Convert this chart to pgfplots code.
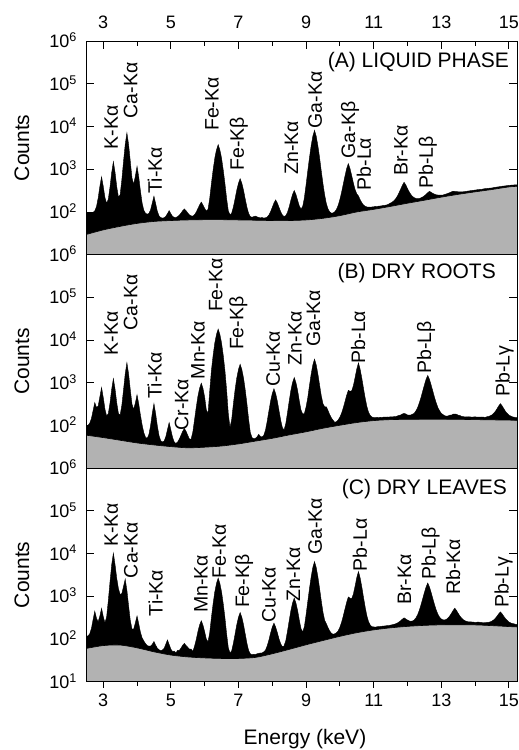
\documentclass[border=0pt]{standalone}
\usepackage{fontspec}
\setmainfont{Liberation Sans}
\usepackage{pgfplots}
\pgfplotsset{compat=1.18}
\usepackage{pgfplotstable}
\definecolor{bggray}{RGB}{178,178,178}
\newcommand{\tickfont}{\fontsize{18}{18}\selectfont}
\newcommand{\labfont}{\fontsize{21}{21}\selectfont}
\newcommand{\pkfont}{\fontsize{19.5}{19.5}\selectfont}
\pgfkeys{/pgf/number format/assume math mode=true}

\pgfplotstableread{
E v
2.45 92
2.55 96
2.60 94
2.65 97
2.70 98
2.75 106
2.80 133
2.85 211
2.90 396
2.95 665
3.00 398
3.05 218
3.10 159
3.15 199
3.20 383
3.25 837
3.30 1500
3.35 837
3.40 388
3.45 221
3.50 252
3.55 564
3.60 1518
3.65 3791
3.70 7096
3.75 3796
3.80 1536
3.85 627
3.90 442
3.95 692
4.00 1170
4.05 658
4.10 312
4.15 162
4.20 110
4.25 93
4.30 89
4.35 92
4.40 112
4.45 161
4.50 234
4.55 157
4.60 104
4.65 81
4.70 74
4.75 72
4.80 73
4.85 79
4.90 91
4.95 108
5.00 91
5.05 79
5.10 75
5.15 74
5.20 78
5.25 84
5.30 94
5.35 107
5.40 118
5.45 107
5.50 95
5.55 85
5.60 81
5.65 80
5.70 86
5.75 99
5.80 120
5.85 146
5.90 170
5.95 146
6.00 121
6.05 105
6.10 115
6.15 208
6.20 463
6.25 960
6.30 1807
6.35 2839
6.40 3760
6.45 2839
6.50 1807
6.55 960
6.60 463
6.65 205
6.70 106
6.75 86
6.80 94
6.85 131
6.90 202
6.95 323
7.00 470
7.05 601
7.10 469
7.15 322
7.20 201
7.25 130
7.30 93
7.35 78
7.40 75
7.45 78
7.50 80
7.55 77
7.60 74
7.65 73
7.70 74
7.75 72
7.80 73
7.85 76
7.90 85
7.95 101
8.00 128
8.05 162
8.10 192
8.15 162
8.20 128
8.25 101
8.30 85
8.35 78
8.40 82
8.45 98
8.50 131
8.55 188
8.60 257
8.65 318
8.70 257
8.75 188
8.80 138
8.85 117
8.90 134
8.95 214
9.00 430
9.05 901
9.10 1848
9.15 3517
9.20 5924
9.25 8097
9.30 5925
9.35 3520
9.40 1852
9.45 906
9.50 457
9.55 251
9.60 157
9.65 117
9.70 100
9.75 94
9.80 95
9.85 101
9.90 115
9.95 143
10.00 195
10.05 287
10.10 444
10.15 689
10.20 1027
10.25 1354
10.30 1037
10.35 708
10.40 475
10.45 335
10.50 266
10.55 236
10.60 194
10.65 164
10.70 145
10.75 136
10.80 131
10.85 130
10.90 129
10.95 131
11.00 132
11.05 135
11.10 134
11.15 137
11.20 138
11.25 140
11.30 143
11.35 144
11.40 147
11.45 154
11.50 162
11.55 170
11.60 184
11.65 203
11.70 235
11.75 281
11.80 344
11.85 423
11.90 495
11.95 429
12.00 353
12.05 296
12.10 256
12.15 230
12.20 216
12.25 208
12.30 205
12.35 205
12.40 215
12.45 224
12.50 239
12.55 258
12.60 282
12.65 303
12.70 289
12.75 272
12.80 260
12.85 252
12.90 249
12.95 247
13.00 248
13.05 249
13.10 257
13.15 264
13.20 273
13.25 283
13.30 295
13.35 306
13.40 303
13.45 299
13.50 297
13.55 296
13.60 297
13.65 297
13.70 301
13.80 309
13.90 318
14.00 325
14.10 335
14.20 340
14.30 352
14.40 358
14.50 365
14.60 378
14.70 388
14.80 400
14.90 408
15.00 420
15.10 425
15.20 432
15.30 435
}\specA

\pgfplotstableread{
E v
2.45 92
2.55 100
2.60 113
2.65 145
2.70 223
2.75 343
2.80 265
2.85 283
2.90 469
2.95 774
3.00 454
3.05 242
3.10 166
3.15 189
3.20 336
3.25 707
3.30 1250
3.35 707
3.40 336
3.45 190
3.50 175
3.55 294
3.60 679
3.65 1605
3.70 2950
3.75 1607
3.80 687
3.85 316
3.90 238
3.95 336
4.00 523
4.05 320
4.10 175
4.15 103
4.20 68
4.25 53
4.30 50
4.35 61
4.40 99
4.45 190
4.50 325
4.55 190
4.60 98
4.65 58
4.70 44
4.75 41
4.80 43
4.85 54
4.90 80
4.95 117
5.00 79
5.05 53
5.10 41
5.15 38
5.20 41
5.25 48
5.30 59
5.35 73
5.40 85
5.45 73
5.50 59
5.55 48
5.60 48
5.65 70
5.70 134
5.75 261
5.80 477
5.85 741
5.90 976
5.95 741
6.00 460
6.05 230
6.10 190
6.15 640
6.20 1931
6.25 4348
6.30 8478
6.35 13508
6.40 17998
6.45 13508
6.50 8479
6.55 4349
6.60 1925
6.65 669
6.70 188
6.75 89
6.80 139
6.85 321
6.90 681
6.95 1293
7.00 2038
7.05 2704
7.10 2039
7.15 1295
7.20 684
7.25 325
7.30 140
7.35 69
7.40 52
7.45 49
7.50 50
7.55 54
7.60 62
7.65 55
7.70 54
7.75 59
7.80 78
7.85 125
7.90 216
7.95 370
8.00 556
8.05 723
8.10 558
8.15 373
8.20 221
8.25 132
8.30 88
8.35 79
8.40 110
8.45 197
8.50 367
8.55 656
8.60 1007
8.65 1320
8.70 1009
8.75 660
8.80 375
8.85 230
8.90 185
8.95 190
9.00 270
9.05 445
9.10 852
9.15 1576
9.20 2618
9.25 3560
9.30 2628
9.35 1594
9.40 885
9.45 496
9.50 323
9.55 272
9.60 274
9.65 223
9.70 179
9.75 150
9.80 132
9.85 118
9.90 123
9.95 135
10.00 156
10.05 193
10.10 257
10.15 358
10.20 504
10.25 664
10.30 630
10.35 646
10.40 853
10.45 1324
10.50 2094
10.55 2915
10.60 2067
10.65 1260
10.70 728
10.75 431
10.80 275
10.85 202
10.90 171
10.95 157
11.00 154
11.05 152
11.10 155
11.15 153
11.20 156
11.25 155
11.30 157
11.35 156
11.40 158
11.45 157
11.50 160
11.55 158
11.60 161
11.65 160
11.70 167
11.75 172
11.80 176
11.85 186
11.90 191
11.95 186
12.00 176
12.05 174
12.10 176
12.15 184
12.20 192
12.25 220
12.30 262
12.35 338
12.40 453
12.45 634
12.50 883
12.55 1203
12.60 1482
12.65 1201
12.70 881
12.75 634
12.80 453
12.85 338
12.90 262
12.95 220
13.00 192
13.05 180
13.10 169
13.15 165
13.20 167
13.25 174
13.30 175
13.35 184
13.40 185
13.45 183
13.50 174
13.55 171
13.60 164
13.65 161
13.70 158
13.80 160
13.90 157
14.00 159
14.10 156
14.20 158
14.30 155
14.35 160
14.40 162
14.45 169
14.50 177
14.55 193
14.60 214
14.65 247
14.70 287
14.75 325
14.80 287
14.85 247
14.90 213
14.95 191
15.00 175
15.05 167
15.10 159
15.15 157
15.20 152
15.30 153
}\specB

\pgfplotstableread{
E v
2.45 115
2.55 118
2.60 132
2.65 175
2.70 283
2.75 444
2.80 306
2.85 255
2.90 343
2.95 521
3.00 335
3.05 240
3.10 325
3.15 785
3.20 2162
3.25 5443
3.30 10210
3.35 5446
3.40 2600
3.45 1500
3.50 1100
3.55 1150
3.60 1700
3.65 2502
3.70 1372
3.75 595
3.80 273
3.85 171
3.90 170
3.95 238
4.00 345
4.05 227
4.10 144
4.15 106
4.20 90
4.25 78
4.30 70
4.35 68
4.40 68
4.45 75
4.50 87
4.55 72
4.60 61
4.65 56
4.70 53
4.75 55
4.80 60
4.85 75
4.90 95
4.95 74
5.00 58
5.05 51
5.10 52
5.15 47
5.20 54
5.25 54
5.30 61
5.35 71
5.40 79
5.45 70
5.50 64
5.55 58
5.60 58
5.65 51
5.70 67
5.75 96
5.80 148
5.85 212
5.90 267
5.95 211
6.00 147
6.05 99
6.10 86
6.15 140
6.20 317
6.25 667
6.30 1268
6.35 1998
6.40 2650
6.45 1998
6.50 1267
6.55 666
6.60 314
6.65 131
6.70 62
6.75 47
6.80 53
6.85 79
6.90 130
6.95 216
7.00 321
7.05 415
7.10 321
7.15 216
7.20 131
7.25 80
7.30 54
7.35 45
7.40 43
7.45 44
7.50 43
7.55 45
7.60 46
7.65 47
7.70 47
7.75 50
7.80 55
7.85 69
7.90 94
7.95 137
8.00 189
8.05 235
8.10 190
8.15 141
8.20 100
8.25 77
8.30 66
8.35 69
8.40 91
8.45 151
8.50 265
8.55 458
8.60 693
8.65 903
8.70 696
8.75 463
8.80 276
8.85 176
8.90 145
8.95 194
9.00 365
9.05 744
9.10 1494
9.15 2818
9.20 4728
9.25 6454
9.30 4735
9.35 2832
9.40 1518
9.45 779
9.50 422
9.55 274
9.60 228
9.65 183
9.70 154
9.75 136
9.80 129
9.85 132
9.90 140
9.95 155
10.00 188
10.05 245
10.10 343
10.15 499
10.20 721
10.25 962
10.30 900
10.35 876
10.40 1123
10.45 1724
10.50 2721
10.55 3789
10.60 2682
10.65 1628
10.70 933
10.75 547
10.80 345
10.85 251
10.90 210
10.95 194
11.00 192
11.05 189
11.10 193
11.15 195
11.20 197
11.25 199
11.30 200
11.35 203
11.40 205
11.45 207
11.50 211
11.55 215
11.60 220
11.65 226
11.70 236
11.75 250
11.80 268
11.85 291
11.90 312
11.95 294
12.00 277
12.05 265
12.10 259
12.15 263
12.20 279
12.25 312
12.30 368
12.35 468
12.40 629
12.45 873
12.50 1216
12.55 1649
12.60 2039
12.65 1651
12.70 1220
12.75 879
12.80 636
12.85 477
12.90 380
12.95 323
13.00 293
13.05 280
13.10 278
13.15 288
13.20 310
13.25 345
13.30 398
13.35 465
13.40 525
13.45 465
13.50 398
13.55 345
13.60 308
13.65 282
13.70 267
13.75 258
13.80 252
13.90 250
14.00 245
14.10 248
14.20 243
14.30 242
14.35 244
14.40 246
14.45 252
14.50 262
14.55 279
14.60 305
14.65 342
14.70 389
14.75 431
14.80 387
14.85 338
14.90 299
14.95 271
15.00 250
15.05 238
15.10 230
15.15 226
15.20 220
15.30 219
}\specC

\pgfplotstableread{
E v
2.45 29
3.0 38
3.5 46
4.0 54
4.5 60
5.0 63
5.5 65
6.0 66
6.5 66
7.0 65
7.5 64
8.0 63
8.5 63
9.0 65
9.5 71
10.0 82
10.5 100
11.0 115
11.5 135
12.0 160
12.5 188
13.0 222
13.5 258
14.0 295
14.5 335
15.0 385
15.3 400
}\bgA

\pgfplotstableread{
E v
2.45 60
3.0 52
3.5 45
4.0 39
4.5 35
5.0 32
5.5 30
6.0 31
6.5 33
7.0 37
7.5 43
8.0 50
8.5 60
9.0 71
9.5 86
10.0 101
10.5 117
11.0 130
11.5 137
12.0 139
12.5 140
13.0 140
13.5 139
14.0 137
14.5 135
15.0 133
15.3 132
}\bgB

\pgfplotstableread{
E v
2.45 59
3.0 70
3.5 72
4.0 62
4.5 50
5.0 42
5.5 38
6.0 36
6.5 35
7.0 35
7.5 37
8.0 45
8.5 57
9.0 73
9.5 92
10.0 115
10.5 140
11.0 163
11.5 182
12.0 197
12.5 208
13.0 214
13.5 215
14.0 213
14.5 205
15.0 195
15.3 190
}\bgC

\tikzset{pk/.style={rotate=90, anchor=west, inner sep=0pt, font=\pkfont}}

\begin{document}
\begin{tikzpicture}
\path[use as bounding box] (0pt,0pt) rectangle (519pt,-750pt);

% ---------------- Panel A ----------------
\begin{axis}[scale only axis, width=431pt, height=213.7pt,
  at={(86pt,-41pt)}, anchor=north west,
  xmin=2.49, xmax=15.24, ymode=log, ymin=10, ymax=1e6,
  yminorticks=false, tick align=inside,
  major tick length=8pt, minor tick length=5pt,
  axis line style={line width=1pt},
  tick style={black, line width=0.9pt},
  tick label style={font=\tickfont},
  yticklabel style={anchor=base east, inner sep=0pt, xshift=-9pt, yshift=-6.7pt},
  xtick={3,5,...,15}, minor xtick={4,6,...,14},
  xtick pos=right, xticklabel pos=right,
  xticklabel style={anchor=base, inner sep=0pt, yshift=13pt},
  ytick={100,1000,10000,100000,1000000},
  yticklabels={10\textsuperscript{2},10\textsuperscript{3},10\textsuperscript{4},10\textsuperscript{5},10\textsuperscript{6}},
  after end axis/.code={
    \draw[line width=1pt] (rel axis cs:0,0) rectangle (rel axis cs:1,1);
    \node[xshift=-64pt, rotate=90, font=\labfont] at (rel axis cs:0,0.5) {Counts};
  },
]
\addplot[fill=black, draw=black, line width=0.4pt] table[x=E,y=v] {\specA} \closedcycle;
\addplot[fill=bggray, draw=black, line width=0.6pt, smooth] table[x=E,y=v] {\bgA} \closedcycle;
\node[anchor=base east, font=\labfont, inner sep=0pt, xshift=-8pt, yshift=-26pt] at (rel axis cs:1,1) {(A) LIQUID PHASE};
\node[pk] at (3.24,2900) {K-Kα};
\node[pk] at (3.81,15500) {Ca-Kα};
\node[pk] at (4.53,270) {Ti-Kα};
\node[pk] at (6.22,7800) {Fe-Kα};
\node[pk] at (7.01,930) {Fe-Kβ};
\node[pk] at (8.57,745) {Zn-Kα};
\node[pk] at (9.27,8900) {Ga-Kα};
\node[pk] at (10.30,1770) {Ga-Kβ};
\node[pk] at (10.71,318) {Pb-Lα};
\node[pk] at (11.81,690) {Br-Kα};
\node[pk] at (12.60,350) {Pb-Lβ};
\end{axis}

% ---------------- Panel B ----------------
\begin{axis}[scale only axis, width=431pt, height=213.7pt,
  at={(86pt,-254.5pt)}, anchor=north west,
  xmin=2.49, xmax=15.24, ymode=log, ymin=10, ymax=1e6,
  yminorticks=false, tick align=inside,
  major tick length=8pt, minor tick length=5pt,
  axis line style={line width=1pt},
  tick style={black, line width=0.9pt},
  tick label style={font=\tickfont},
  yticklabel style={anchor=base east, inner sep=0pt, xshift=-9pt, yshift=-6.7pt},
  xtick=\empty,
  ytick={100,1000,10000,100000,1000000},
  yticklabels={10\textsuperscript{2},10\textsuperscript{3},10\textsuperscript{4},10\textsuperscript{5},10\textsuperscript{6}},
  after end axis/.code={
    \draw[line width=1pt] (rel axis cs:0,0) rectangle (rel axis cs:1,1);
    \node[xshift=-64pt, rotate=90, font=\labfont] at (rel axis cs:0,0.5) {Counts};
  },
]
\addplot[fill=black, draw=black, line width=0.4pt] table[x=E,y=v] {\specB} \closedcycle;
\addplot[fill=bggray, draw=black, line width=0.6pt, smooth] table[x=E,y=v] {\bgB} \closedcycle;
\node[anchor=base east, font=\labfont, inner sep=0pt, xshift=-21pt, yshift=-23.5pt] at (rel axis cs:1,1) {(B) DRY ROOTS};
\node[pk] at (3.24,4370) {K-Kα};
\node[pk] at (3.81,16600) {Ca-Kα};
\node[pk] at (4.52,427) {Ti-Kα};
\node[pk] at (5.32,77) {Cr-Kα};
\node[pk] at (5.80,1200) {Mn-Kα};
\node[pk] at (6.33,44700) {Fe-Kα};
\node[pk] at (7.00,5770) {Fe-Kβ};
\node[pk] at (8.03,795) {Cu-Kα};
\node[pk] at (8.67,2570) {Zn-Kα};
\node[pk] at (9.22,6800) {Ga-Kα};
\node[pk] at (10.54,2820) {Pb-Lα};
\node[pk] at (12.55,1630) {Pb-Lβ};
\node[pk] at (14.87,464) {Pb-Lγ};
\end{axis}

% ---------------- Panel C ----------------
\begin{axis}[scale only axis, width=431pt, height=213.7pt,
  at={(86pt,-468pt)}, anchor=north west,
  xmin=2.49, xmax=15.24, ymode=log, ymin=10, ymax=1e6,
  yminorticks=false, tick align=inside,
  major tick length=8pt, minor tick length=5pt,
  axis line style={line width=1pt},
  tick style={black, line width=0.9pt},
  tick label style={font=\tickfont},
  yticklabel style={anchor=base east, inner sep=0pt, xshift=-9pt, yshift=-6.7pt},
  xtick=\empty,
  ytick={10,100,1000,10000,100000,1000000},
  yticklabels={10\textsuperscript{1},10\textsuperscript{2},10\textsuperscript{3},10\textsuperscript{4},10\textsuperscript{5},10\textsuperscript{6}},
  after end axis/.code={
    \draw[line width=1pt] (rel axis cs:0,0) rectangle (rel axis cs:1,1);
    \node[xshift=-64pt, rotate=90, font=\labfont] at (rel axis cs:0,0.5) {Counts};
  },
]
\addplot[fill=black, draw=black, line width=0.4pt] table[x=E,y=v] {\specC} \closedcycle;
\addplot[fill=bggray, draw=black, line width=0.6pt, smooth] table[x=E,y=v] {\bgC} \closedcycle;
\node[anchor=base east, font=\labfont, inner sep=0pt, xshift=-10pt, yshift=-26pt] at (rel axis cs:1,1) {(C) DRY LEAVES};
\node[pk] at (3.24,14400) {K-Kα};
\node[pk] at (3.82,2640) {Ca-Kα};
\node[pk] at (4.55,338) {Ti-Kα};
\node[pk] at (5.89,405) {Mn-Kα};
\node[pk] at (6.43,2640) {Fe-Kα};
\node[pk] at (7.17,525) {Fe-Kβ};
\node[pk] at (7.90,235) {Cu-Kα};
\node[pk] at (8.63,760) {Zn-Kα};
\node[pk] at (9.27,9300) {Ga-Kα};
\node[pk] at (10.59,3820) {Pb-Lα};
\node[pk] at (11.91,630) {Br-Kα};
\node[pk] at (12.68,2410) {Pb-Lβ};
\node[pk] at (13.35,1080) {Rb-Kα};
\node[pk] at (14.84,525) {Pb-Lγ};
\end{axis}

% ---------------- Panel C bottom x axis (outward ticks) ----------------
\begin{axis}[scale only axis, width=431pt, height=213.7pt,
  at={(86pt,-468pt)}, anchor=north west,
  xmin=2.49, xmax=15.24, ymin=0, ymax=1,
  hide y axis, axis x line*=bottom,
  axis line style={line width=1pt},
  tick align=outside, major tick length=6pt, minor tick length=4pt,
  tick style={black, line width=0.9pt},
  xtick={3,5,...,15}, minor xtick={4,6,...,14},
  xticklabel style={font=\tickfont, anchor=base, inner sep=0pt, yshift=-18.5pt},
  clip=false,
]
\node[anchor=base, font=\labfont, inner sep=0pt, xshift=3.5pt, yshift=-63pt] at (rel axis cs:0.5,0) {Energy (keV)};
\end{axis}
\end{tikzpicture}
\end{document}
